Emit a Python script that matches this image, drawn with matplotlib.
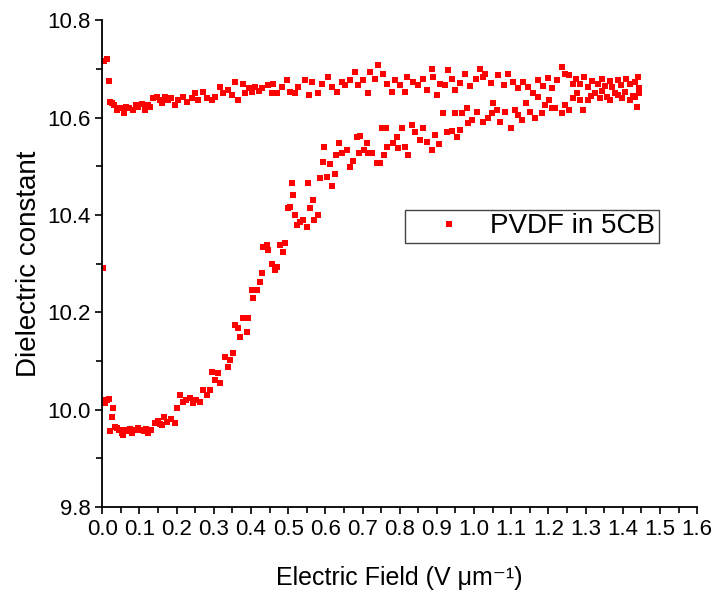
import matplotlib
matplotlib.use("Agg")
import numpy as np
from matplotlib import pyplot as plt
from matplotlib.ticker import MultipleLocator

plt.rcParams['font.family'] = ['Liberation Sans', 'DejaVu Sans']

# field sweep, upper branch (already switched)
field_up = [0.005, 0.012, 0.019, 0.022, 0.027, 0.032, 0.040, 0.048, 0.059, 0.065,
            0.073, 0.083, 0.090, 0.097, 0.108, 0.116, 0.122, 0.129, 0.137, 0.148,
            0.155, 0.161, 0.168, 0.177, 0.186, 0.196, 0.204, 0.218, 0.228, 0.242,
            0.250, 0.258, 0.272, 0.282, 0.296, 0.304, 0.317, 0.325, 0.339, 0.349,
            0.358, 0.366, 0.379, 0.384, 0.395, 0.403, 0.411, 0.422, 0.430, 0.446,
            0.457, 0.460, 0.470, 0.484, 0.497, 0.505, 0.519, 0.527, 0.546, 0.556,
            0.565, 0.581, 0.592, 0.608, 0.618, 0.632, 0.645, 0.653, 0.667, 0.680,
            0.688, 0.702, 0.715, 0.720, 0.734, 0.742, 0.755, 0.766, 0.780, 0.788,
            0.801, 0.815, 0.820, 0.836, 0.850, 0.863, 0.874, 0.887, 0.890, 0.900,
            0.909, 0.922, 0.930, 0.941, 0.949, 0.962, 0.975, 0.990, 1.005, 1.016,
            1.024, 1.030, 1.045, 1.065, 1.080, 1.092, 1.105, 1.118, 1.132, 1.145,
            1.158, 1.172, 1.185, 1.198, 1.210, 1.222, 1.236, 1.244, 1.255, 1.265,
            1.274, 1.285, 1.296, 1.306, 1.318, 1.333, 1.345, 1.352, 1.365, 1.372,
            1.387, 1.395, 1.410, 1.420, 1.433, 1.440, 1.445]
eps_up = [10.716, 10.720, 10.675, 10.632, 10.630, 10.625, 10.615, 10.619, 10.609, 10.621,
          10.619, 10.615, 10.625, 10.621, 10.627, 10.615, 10.625, 10.621, 10.640, 10.642,
          10.636, 10.630, 10.642, 10.636, 10.640, 10.625, 10.636, 10.642, 10.632, 10.640,
          10.650, 10.636, 10.652, 10.640, 10.636, 10.642, 10.662, 10.650, 10.656, 10.646,
          10.673, 10.636, 10.670, 10.650, 10.660, 10.652, 10.662, 10.655, 10.660, 10.666,
          10.650, 10.670, 10.650, 10.662, 10.677, 10.652, 10.650, 10.662, 10.677, 10.646,
          10.673, 10.650, 10.670, 10.683, 10.662, 10.652, 10.673, 10.666, 10.677, 10.693,
          10.666, 10.677, 10.650, 10.693, 10.680, 10.708, 10.690, 10.670, 10.652, 10.677,
          10.666, 10.652, 10.683, 10.673, 10.666, 10.680, 10.656, 10.700, 10.683, 10.646,
          10.670, 10.666, 10.697, 10.680, 10.656, 10.672, 10.690, 10.664, 10.680, 10.700,
          10.683, 10.690, 10.672, 10.687, 10.666, 10.690, 10.673, 10.660, 10.673, 10.663,
          10.650, 10.677, 10.664, 10.682, 10.660, 10.677, 10.703, 10.690, 10.687, 10.668,
          10.680, 10.670, 10.683, 10.662, 10.675, 10.670, 10.680, 10.664, 10.676, 10.662,
          10.677, 10.666, 10.680, 10.670, 10.673, 10.683, 10.660]

# lower branch (switching curve)
field_down = [0.003, 0.004, 0.008, 0.013, 0.018, 0.022, 0.027, 0.030, 0.035, 0.040,
              0.046, 0.052, 0.056, 0.062, 0.068, 0.075, 0.081, 0.088, 0.097, 0.105,
              0.113, 0.118, 0.124, 0.132, 0.142, 0.150, 0.155, 0.161, 0.166, 0.175,
              0.184, 0.196, 0.202, 0.210, 0.218, 0.226, 0.237, 0.245, 0.252, 0.263,
              0.270, 0.282, 0.290, 0.296, 0.304, 0.312, 0.317, 0.330, 0.338, 0.344,
              0.352, 0.358, 0.366, 0.371, 0.379, 0.390, 0.393, 0.403, 0.406, 0.417,
              0.425, 0.430, 0.433, 0.443, 0.446, 0.457, 0.465, 0.470, 0.479, 0.487,
              0.492, 0.500, 0.505, 0.511, 0.513, 0.519, 0.524, 0.532, 0.540, 0.551,
              0.554, 0.559, 0.567, 0.570, 0.581, 0.586, 0.594, 0.597, 0.605, 0.613,
              0.618, 0.626, 0.630, 0.637, 0.645, 0.658, 0.667, 0.675, 0.685, 0.690,
              0.693, 0.705, 0.712, 0.716, 0.726, 0.739, 0.748, 0.753, 0.758, 0.763,
              0.766, 0.782, 0.793, 0.796, 0.806, 0.814, 0.823, 0.833, 0.841, 0.855,
              0.863, 0.874, 0.887, 0.895, 0.906, 0.917, 0.927, 0.940, 0.949, 0.954,
              0.962, 0.968, 0.980, 0.985, 0.995, 1.008, 1.024, 1.038, 1.048, 1.050,
              1.062, 1.070, 1.083, 1.100, 1.110, 1.118, 1.129, 1.140, 1.150, 1.164,
              1.172, 1.183, 1.190, 1.202, 1.210, 1.218, 1.236, 1.244, 1.255, 1.265,
              1.277, 1.285, 1.293, 1.306, 1.315, 1.325, 1.338, 1.344, 1.358, 1.365,
              1.378, 1.387, 1.398, 1.406, 1.419, 1.428, 1.433, 1.438, 1.444]
eps_down = [10.290, 10.020, 10.014, 10.020, 10.022, 9.956, 9.985, 10.003, 9.964, 9.962,
            9.958, 9.952, 9.948, 9.958, 9.955, 9.960, 9.952, 9.958, 9.962, 9.958,
            9.955, 9.960, 9.952, 9.958, 9.972, 9.976, 9.970, 9.968, 9.985, 9.975,
            9.980, 9.973, 10.003, 10.030, 10.016, 10.020, 10.024, 10.014, 10.020, 10.016,
            10.040, 10.030, 10.040, 10.077, 10.061, 10.075, 10.055, 10.108, 10.087, 10.102,
            10.116, 10.174, 10.168, 10.149, 10.188, 10.160, 10.188, 10.245, 10.229, 10.245,
            10.262, 10.280, 10.334, 10.338, 10.328, 10.300, 10.287, 10.293, 10.338, 10.324,
            10.342, 10.414, 10.416, 10.465, 10.440, 10.400, 10.379, 10.385, 10.389, 10.375,
            10.465, 10.414, 10.430, 10.389, 10.400, 10.476, 10.508, 10.540, 10.478, 10.504,
            10.460, 10.484, 10.523, 10.547, 10.527, 10.533, 10.498, 10.510, 10.560, 10.527,
            10.562, 10.533, 10.547, 10.527, 10.527, 10.506, 10.506, 10.578, 10.523, 10.578,
            10.540, 10.547, 10.560, 10.537, 10.578, 10.540, 10.523, 10.584, 10.570, 10.554,
            10.578, 10.550, 10.533, 10.564, 10.545, 10.609, 10.570, 10.572, 10.610, 10.560,
            10.574, 10.609, 10.620, 10.588, 10.595, 10.612, 10.590, 10.600, 10.610, 10.630,
            10.615, 10.590, 10.612, 10.578, 10.615, 10.605, 10.595, 10.630, 10.612, 10.600,
            10.642, 10.610, 10.625, 10.636, 10.620, 10.619, 10.609, 10.625, 10.615, 10.640,
            10.650, 10.636, 10.615, 10.636, 10.645, 10.650, 10.640, 10.655, 10.642, 10.636,
            10.650, 10.646, 10.640, 10.652, 10.636, 10.645, 10.642, 10.622, 10.650]

field = np.array(field_up + field_down)
eps = np.array(eps_up + eps_down)

fig = plt.figure(figsize=(7.15, 5.95), dpi=100)
ax = fig.add_axes([0.143, 0.148, 0.832, 0.818])

ax.plot(field, eps, 's', color='red', markersize=4.8, markeredgewidth=0,
        linestyle='none', label='PVDF in 5CB')

ax.set_xlim(0, 1.6)
ax.set_ylim(9.8, 10.8)
ax.xaxis.set_major_locator(MultipleLocator(0.1))
ax.xaxis.set_minor_locator(MultipleLocator(0.05))
ax.yaxis.set_major_locator(MultipleLocator(0.2))
ax.yaxis.set_minor_locator(MultipleLocator(0.1))
ax.xaxis.set_major_formatter(plt.FormatStrFormatter('%.1f'))
ax.yaxis.set_major_formatter(plt.FormatStrFormatter('%.1f'))

for side in ['top', 'right']:
    ax.spines[side].set_visible(False)
for side in ['left', 'bottom']:
    ax.spines[side].set_linewidth(1.3)

ax.tick_params(which='both', direction='out', width=1.2, labelsize=16, color='black')
ax.tick_params(which='major', length=5)
ax.tick_params(which='minor', length=4)

ax.set_xlabel('Electric Field (V \u03bcm\u207b\u00b9)', fontsize=18, labelpad=19)
ax.set_ylabel('Dielectric constant', fontsize=20, labelpad=4)

leg = ax.legend(loc='upper left', bbox_to_anchor=(0.509, 0.61), fontsize=20,
                fancybox=False, edgecolor='#444444', framealpha=1,
                handletextpad=0.05, borderpad=0.12, borderaxespad=0,
                handlelength=2.9, markerscale=1.0)
leg.get_frame().set_linewidth(1.0)

fig.savefig('out.png', dpi=100)
